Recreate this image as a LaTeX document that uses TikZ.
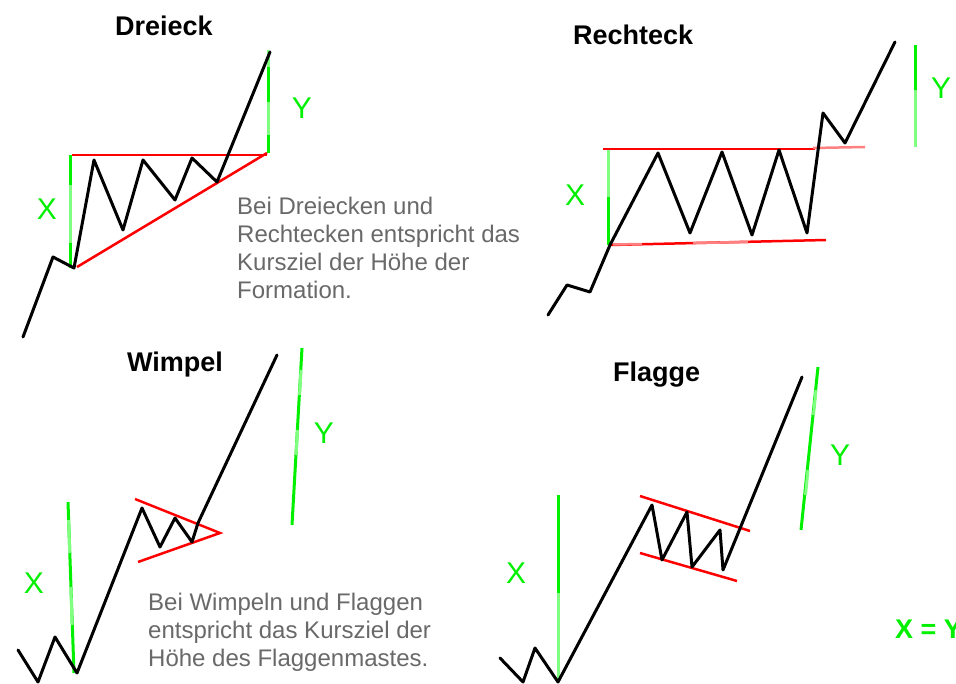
\documentclass[tikz,border=0pt]{standalone}
\usepackage{fontspec}
\setmainfont{Liberation Sans}
\definecolor{gb}{RGB}{0,240,0}
\definecolor{gl}{RGB}{128,255,128}
\definecolor{rr}{RGB}{255,0,0}
\definecolor{rp}{RGB}{255,128,128}
\definecolor{tg}{RGB}{105,105,105}
\begin{document}
\begin{tikzpicture}[x=1pt,y=-1pt,
 price/.style={black,line width=3pt,line join=round,line cap=round},
 bound/.style={rr,line width=2.5pt},
 boundp/.style={rp,line width=2.5pt},
 hgt/.style={gb,line width=3pt},
 hgtl/.style={gl,line width=3pt},
 ttl/.style={font=\fontsize{27}{30}\selectfont\bfseries,anchor=base west,inner sep=0},
 lbl/.style={font=\fontsize{30}{32}\selectfont,text=gb,inner sep=0},
 note/.style={font=\fontsize{24}{28}\selectfont,text=tg,anchor=base west,inner sep=0}]
\useasboundingbox (0,0) rectangle (956,684);
\clip (0,0) rectangle (956,684);
\fill[white] (0,0) rectangle (956,684);

% ---------------- Dreieck ----------------
\node[ttl] (t1) at (115,36) {Dreieck};
\draw[bound] (72,155) -- (267,155);
\draw[bound] (77,267) -- (267,153);
\draw[hgt] (70,155) -- (70,268);
\draw[hgtl] (70,185) -- (70,243);
\draw[hgt] (268,50) -- (268,153);
\draw[hgtl] (268,50) -- (268,67);
\draw[hgtl] (268,102) -- (268,135);
\draw[price] (23,337) -- (53,257) -- (74,268) -- (94,160) -- (123,230) -- (143,160)
  -- (175,200) -- (192,158) -- (217,182) -- (270,52);
\node[lbl] (x1) at (47,209) {X};
\node[lbl] (y1) at (302,108) {Y};
\node[note] (n1a) at (237,215) {Bei Dreiecken und};
\node[note] (n1b) at (237,243) {Rechtecken entspricht das};
\node[note] (n1c) at (237,271) {Kursziel der Höhe der};
\node[note] (n1d) at (237,299) {Formation.};

% ---------------- Rechteck ----------------
\node[ttl] (t2) at (573,45) {Rechteck};
\draw[bound] (603,149) -- (815,149);
\draw[boundp] (813,148) -- (865,147);
\draw[bound] (610,245) -- (826,240);
\draw[boundp] (613,244.5) -- (642,244);
\draw[boundp] (693,243) -- (748,242);
\draw[hgt] (608,150) -- (608,245);
\draw[hgtl] (608,150) -- (608,197);
\draw[hgt] (915,45) -- (915,147);
\draw[hgtl] (915,90) -- (915,147);
\draw[price] (548,315) -- (567,285) -- (590,292) -- (610,245) -- (658,153) -- (690,233)
  -- (722,152) -- (752,235) -- (779,150) -- (807,233) -- (823,113) -- (845,143) -- (895,42);
\node[lbl] (x2) at (575,195) {X};
\node[lbl] (y2) at (941,88) {Y};

% ---------------- Wimpel ----------------
\node[ttl] (t3) at (127,372) {Wimpel};
\draw[bound] (135,499) -- (220,533) -- (138,562);
\draw[hgt] (68,502) -- (74,673);
\draw[hgtl] (68.6,520) -- (69.8,553);
\draw[hgtl] (70.9,587) -- (72.1,625);
\draw[hgt] (302,348) -- (292,525);
\draw[hgtl] (301,370) -- (299.5,395);
\draw[hgtl] (297.5,430) -- (296,455);
\draw[price] (18,650) -- (38,682) -- (55,637) -- (77,673) -- (142,508) -- (160,547)
  -- (175,518) -- (192,542) -- (198,523) -- (277,355);
\node[lbl] (x3) at (34,583) {X};
\node[lbl] (y3) at (324,433) {Y};
\node[note] (n3a) at (148,610) {Bei Wimpeln und Flaggen};
\node[note] (n3b) at (148,638) {entspricht das Kursziel der};
\node[note] (n3c) at (148,666) {Höhe des Flaggenmastes.};

% ---------------- Flagge ----------------
\node[ttl] (t4) at (613,382) {Flagge};
\draw[bound] (640,496) -- (750,531);
\draw[bound] (640,553) -- (737,581);
\draw[hgt] (558,495) -- (558,682);
\draw[hgtl] (558,593) -- (558,682);
\draw[hgt] (818,367) -- (801,530);
\draw[hgtl] (816,390) -- (813.5,415);
\draw[hgtl] (808,470) -- (805.5,495);
\draw[price] (500,658) -- (523,682) -- (535,648) -- (558,682) -- (652,505) -- (662,560)
  -- (687,512) -- (692,567) -- (720,530) -- (723,570) -- (802,377);
\node[lbl] (x4) at (516,573) {X};
\node[lbl] (y4) at (840,455) {Y};
\node[lbl,anchor=base west,font=\fontsize{27}{30}\selectfont\bfseries] (xy) at (895,638) {X = Y};
\end{tikzpicture}
\end{document}
